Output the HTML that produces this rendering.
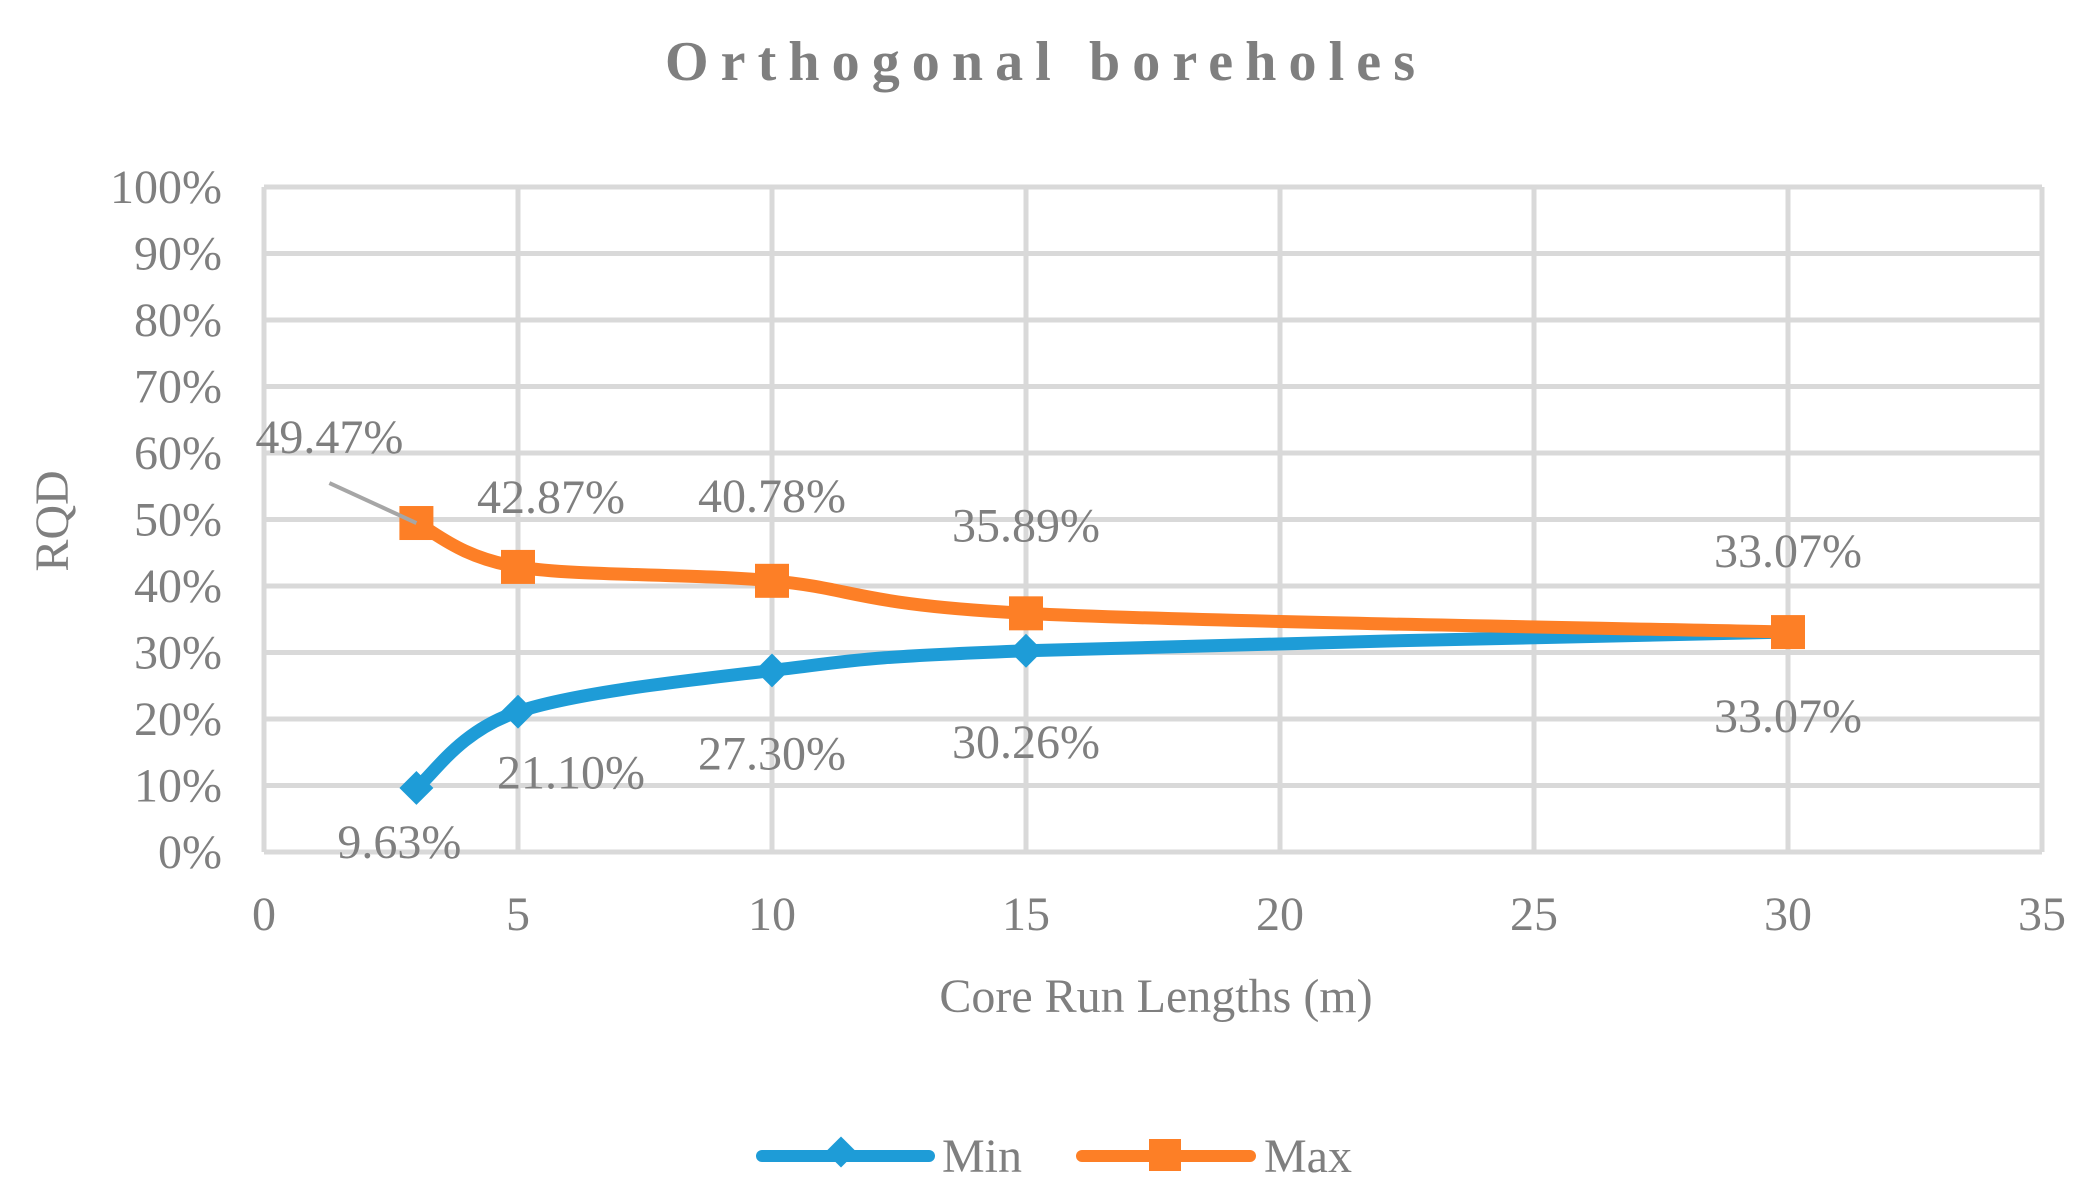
<!DOCTYPE html>
<html><head><meta charset="utf-8"><style>
html,body{margin:0;padding:0;background:#fff;}
svg{display:block;font-family:"Liberation Serif",serif;}
</style></head><body>
<svg id="chart" width="2085" height="1201" viewBox="0 0 2085 1201" xmlns="http://www.w3.org/2000/svg">
<text x="1040" y="80" text-anchor="middle" font-size="56" font-weight="bold" fill="#7f7f7f" textLength="750" lengthAdjust="spacing">Orthogonal boreholes</text>
<g id="grid"></g>
<g id="yticks"></g>
<g id="xticks"></g>
<text transform="translate(68,521) rotate(-90)" text-anchor="middle" font-size="48" fill="#7f7f7f">RQD</text>
<text x="1156" y="1012" text-anchor="middle" font-size="48" fill="#7f7f7f">Core Run Lengths (m)</text>
<g id="series"></g>
<g id="labels"></g>
<g>
<g>
<line x1="762" y1="1156" x2="929" y2="1156" stroke="#1e9cd7" stroke-width="12" stroke-linecap="round"/>
<rect x="830" y="1141" width="22" height="22" fill="#1e9cd7" transform="rotate(45 841 1152)"/>
<text x="942" y="1172" font-size="48" fill="#7f7f7f">Min</text>
</g>
<g>
<line x1="1082" y1="1156" x2="1250" y2="1156" stroke="#fd7f26" stroke-width="12" stroke-linecap="round"/>
<rect x="1149" y="1139" width="32" height="32" fill="#fd7f26"/>
<text x="1264" y="1172" font-size="48" fill="#7f7f7f">Max</text>
</g>
</g>
</svg>
<script>
const xCategories = [3, 5, 10, 15, 30];
const minValues = [0.0963, 0.2110, 0.2730, 0.3026, 0.3307];
const maxValues = [0.4947, 0.4287, 0.4078, 0.3589, 0.3307];
const minLabels = ["9.63%", "21.10%", "27.30%", "30.26%", "33.07%"];
const maxLabels = ["49.47%", "42.87%", "40.78%", "35.89%", "33.07%"];
const yTickLabels = ["0%","10%","20%","30%","40%","50%","60%","70%","80%","90%","100%"];
const xTickLabels = ["0","5","10","15","20","25","30","35"];

const X0=264, X1=2042, Y0=852, Y1=187;
const xs = v => X0 + (v/35)*(X1-X0);
const ys = v => Y0 - v*(Y0-Y1);
const NS="http://www.w3.org/2000/svg";
function mk(tag, parent, attrs){const e=document.createElementNS(NS,tag);for(const k in attrs)e.setAttribute(k,attrs[k]);parent.appendChild(e);return e;}
const grid=document.getElementById('grid'), yt=document.getElementById('yticks'), xt=document.getElementById('xticks');
yTickLabels.forEach((t,i)=>{
  const v=i/10;
  const l=mk('line',grid,{x1:X0,x2:X1,y1:ys(v),y2:ys(v),stroke:'#d9d9d9','stroke-width':5});
  
  
  const tx=mk('text',yt,{x:222,y:ys(v)+16,'text-anchor':'end','font-size':48,fill:'#7f7f7f'});
  tx.textContent=t;
  
  
});
xTickLabels.forEach(t=>{
  const v=+t;
  const l=mk('line',grid,{x1:xs(v),x2:xs(v),y1:Y1,y2:Y0,stroke:'#d9d9d9','stroke-width':5});
  
  
  const tx=mk('text',xt,{x:xs(v),y:930,'text-anchor':'middle','font-size':48,fill:'#7f7f7f'});
  tx.textContent=t;
  
  
});
function smooth(pts){
  let d=`M${pts[0][0]},${pts[0][1]}`;
  for(let i=0;i<pts.length-1;i++){
    const p0=pts[Math.max(i-1,0)],p1=pts[i],p2=pts[i+1],p3=pts[Math.min(i+2,pts.length-1)];
    const t=1/6;
    const c1=[p1[0]+(p2[0]-p0[0])*t,p1[1]+(p2[1]-p0[1])*t];
    const c2=[p2[0]-(p3[0]-p1[0])*t,p2[1]-(p3[1]-p1[1])*t];
    d+=` C${c1[0]},${c1[1]} ${c2[0]},${c2[1]} ${p2[0]},${p2[1]}`;
  }
  return d;
}
const ser=document.getElementById('series'), lab=document.getElementById('labels');
const minPts=xCategories.map((x,i)=>[xs(x),ys(minValues[i])]);
const maxPts=xCategories.map((x,i)=>[xs(x),ys(maxValues[i])]);
const minLine=mk('path',ser,{d:smooth(minPts),fill:'none',stroke:'#1e9cd7','stroke-width':13,'stroke-linecap':'round'});


const maxLine=mk('path',ser,{d:smooth(maxPts),fill:'none',stroke:'#fd7f26','stroke-width':13,'stroke-linecap':'round'});


minPts.forEach(p=>{
  const r=mk('rect',ser,{x:p[0]-12,y:p[1]-12,width:24,height:24,fill:'#1e9cd7',transform:`rotate(45 ${p[0]} ${p[1]})`});
  
  
});
maxPts.forEach(p=>{
  const r=mk('rect',ser,{x:p[0]-17,y:p[1]-17,width:34,height:34,fill:'#fd7f26'});
  
  
});
const ll=mk('line',lab,{x1:maxPts[0][0]-87,y1:maxPts[0][1]-40,x2:maxPts[0][0],y2:maxPts[0][1],stroke:'#a6a6a6','stroke-width':4});


const maxOff=[[-87,-70],[33,-54],[0,-69],[0,-72],[0,-65]];
const minOff=[[-17,70],[53,77],[0,99],[0,107],[0,100]];
maxPts.forEach((p,i)=>{
  const t=mk('text',lab,{x:p[0]+maxOff[i][0],y:p[1]+maxOff[i][1],'text-anchor':'middle','font-size':48,fill:'#7f7f7f'});
  t.textContent=maxLabels[i];
  
  
});
minPts.forEach((p,i)=>{
  const t=mk('text',lab,{x:p[0]+minOff[i][0],y:p[1]+minOff[i][1],'text-anchor':'middle','font-size':48,fill:'#7f7f7f'});
  t.textContent=minLabels[i];
  
  
});
</script>
</body></html>
